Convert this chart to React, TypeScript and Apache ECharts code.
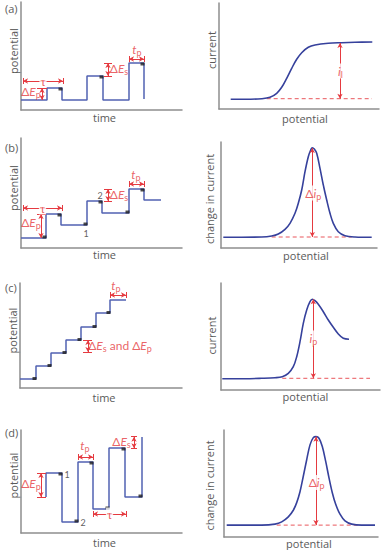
import React, { useEffect, useRef } from 'react';
import * as echarts from 'echarts';

const STEP_BLUE = '#5162b2';
const CURVE_BLUE = '#36419c';
const RED = '#e53a40';
const AXIS_GRAY = '#8e8e8e';
const TEXT = '#5a5a5a';
const FONT = 'Lato, "Open Sans", sans-serif';
const NAME_FONT = '"Open Sans", sans-serif';

type P = [number, number];

// ---------- (a) normal pulse ----------
const aTime = [0, 26, 41, 66, 82, 108, 123];
const aPotential = [10, 22, 10, 34, 10, 47, 11];
const aMarkTime = [39.5, 80.5, 121.5];
const aMarkPotential = [21, 33, 46];
const aCurvePotential = [11.7, 26, 42.7, 51, 57.7, 62.7, 67.7, 72.7, 77.7, 82.7, 89.3, 96, 109.3, 122.7, 136, 153.3];
const aCurrent = [9.7, 9.7, 10.3, 11.7, 15.7, 21.7, 30.7, 40.7, 49.7, 56.3, 61.7, 64, 65.7, 66.3, 66.7, 67];
const aBaseX = [47.7, 153];
const aBaseY = [10.3, 10.3];

// ---------- (b) differential pulse ----------
const bTime = [0, 25, 40, 66, 81, 108, 123, 140];
const bPotential = [10, 34, 23, 47, 35, 59, 48, 48];
const bMarkTime = [23.5, 38.5, 64.5, 79.5, 106.5, 121.5];
const bMarkPotential = [11, 33, 24, 46, 36, 58];
const bCurvePotential = [2.3, 40.7, 50.7, 57.3, 64, 69, 74, 77.3, 80.7, 84, 87.3, 89.7, 91.3, 93.3, 95.7, 99, 102.3, 105.7, 109, 112.3, 117.3, 124, 134, 150.7];
const bDeltaCurrent = [10.7, 11, 12, 14, 18.7, 24.7, 34.7, 44.7, 58, 76.3, 91.3, 98, 100.3, 99, 94.7, 79.7, 63, 48, 34.7, 24.7, 16.3, 12.3, 11, 10.7];
const bBaseX = [50.7, 130.7];
const bBaseY = [11, 11];

// ---------- (c) staircase ----------
const cTime = [0, 16, 31, 46, 61, 76, 90, 106];
const cPotential = [9, 22, 35, 48, 61, 75, 88, 88];
const cMarkTime = [14.5, 29.5, 44.5, 59.5, 74.5, 88.5];
const cMarkPotential = [9.5, 22.5, 35.5, 48.5, 61.5, 75.5];
const cCurvePotential = [1.3, 24, 40.7, 54, 61.3, 67.3, 72.3, 75.7, 79, 82.3, 85.7, 89, 91.3, 94, 97.3, 102.3, 107.3, 112.3, 117.3, 122.3, 128];
const cCurrent = [11.3, 11.3, 11.7, 12.3, 13.3, 16.7, 23.3, 33.3, 48.3, 66.7, 80, 88.3, 90.7, 89.3, 85.7, 78.3, 70, 62.7, 56, 51.7, 50.7];
const cBaseX = [61.3, 149];
const cBaseY = [11.7, 11.7];

// ---------- (d) square wave ----------
const dTime = [25, 41, 57, 72, 88, 104, 121, 121];
const dPotential = [36, 60, 11, 71, 24, 85, 36, 96];
const dMarkTime = [39.5, 55.5, 70.5, 86.5, 102.5, 119.5];
const dMarkPotential = [59, 12, 70, 25, 84, 37];
const dCurvePotential = [2.7, 37.7, 51, 57.7, 64.3, 69.3, 72.7, 76, 79.3, 82.7, 86, 89.3, 92, 95, 98.3, 101.7, 105, 108.3, 111.7, 116, 121, 127.7, 137.7, 151];
const dDeltaCurrent = [12, 12, 13, 15.3, 20.3, 27, 34.7, 45.7, 61.3, 78, 93, 100.3, 101.3, 99.7, 91.3, 76.3, 59.7, 44.7, 33, 23, 16.3, 13, 12, 12];
const dBaseX = [52.7, 134.3];
const dBaseY = [12, 12];

const grids = [
  { left: 21, top: 2, width: 161, height: 108 },
  { left: 219, top: 3, width: 160, height: 106 },
  { left: 21, top: 138, width: 161, height: 110 },
  { left: 221, top: 142, width: 156, height: 106 },
  { left: 20, top: 283, width: 162, height: 105 },
  { left: 221, top: 283, width: 159, height: 107 },
  { left: 21, top: 430, width: 161, height: 103 },
  { left: 224, top: 430, width: 154, height: 108 },
];

const xNames = ['time', 'potential', 'time', 'potential', 'time', 'potential', 'time', 'potential'];
const yNames = ['potential', 'current', 'potential', 'change in current', 'potential', 'current', 'potential', 'change in current'];
const xNameShift = [3, 6, 3, 7, 3, 5, 3, 8];
const yNameShift = [5, 6, 5, -4, 5, 1, 6, -2];
const xNameGap = [2, 3.5, 1, 1.5, 4, 1, 3.5, 1];
const yNameGap = [2, 2.5, 2, 6.5, 2, 4.5, 2, 9.5];

const zip = (xs: number[], ys: number[]): P[] => xs.map((x, i) => [x, ys[i]]);

const rich = {
  r: { color: RED, fontSize: 12, fontFamily: FONT, lineHeight: 15 },
  ri: { color: RED, fontSize: 12, fontFamily: FONT, fontStyle: 'italic', lineHeight: 15 },
  rs: { color: RED, fontSize: 9, fontFamily: FONT, verticalAlign: 'bottom' },
  tau: { color: RED, fontSize: 13, fontFamily: '"Liberation Serif", serif', lineHeight: 13 },
  k: { color: '#333', fontSize: 9, fontFamily: FONT },
};

function stepSeries(i: number, xs: number[], ys: number[], step: string) {
  return {
    type: 'line', xAxisIndex: i, yAxisIndex: i, data: zip(xs, ys), step,
    symbol: 'none', silent: true, z: 3,
    lineStyle: { color: STEP_BLUE, width: 1.5 },
  };
}
function markerSeries(i: number, xs: number[], ys: number[]) {
  return {
    type: 'scatter', xAxisIndex: i, yAxisIndex: i, data: zip(xs, ys),
    symbol: 'rect', symbolSize: [4, 3], silent: true, z: 4,
    itemStyle: { color: '#1e1e1e' },
  };
}
function curveSeries(i: number, xs: number[], ys: number[]) {
  return {
    type: 'line', xAxisIndex: i, yAxisIndex: i, data: zip(xs, ys), smooth: 0.35,
    symbol: 'none', silent: true, z: 4,
    lineStyle: { color: CURVE_BLUE, width: 1.6 },
  };
}
function dashSeries(i: number, xs: number[], ys: number[]) {
  return {
    type: 'line', xAxisIndex: i, yAxisIndex: i, data: zip(xs, ys),
    symbol: 'none', silent: true, z: 2,
    lineStyle: { color: RED, width: 1, type: [4, 3], opacity: 0.85 },
  };
}
type T = { pos: P; text: string; bg?: boolean };
function annotSeries(i: number, texts: T[], arrows: [P, P][], ticks: [P, P][]) {
  return {
    type: 'scatter', xAxisIndex: i, yAxisIndex: i, symbolSize: 0, silent: true, z: 6,
    data: texts.map((t) => ({
      value: t.pos,
      label: { formatter: t.text, backgroundColor: t.bg ? '#fff' : 'transparent', padding: t.bg ? [0, 1] : 0 },
    })),
    label: { show: true, position: 'inside', rich, color: RED },
    markLine: {
      silent: true, symbol: ['arrow', 'arrow'], symbolSize: [4, 5],
      lineStyle: { color: RED, width: 1, type: 'solid' },
      label: { show: false },
      emphasis: { disabled: true },
      data: [
        ...arrows.map(([a, b]) => [{ coord: a }, { coord: b }]),
        ...ticks.map(([a, b]) => [{ coord: a, symbol: 'none' }, { coord: b, symbol: 'none' }]),
      ],
    },
  };
}

const dEp = '{r|Δ}{ri|E}{rs|p}';
const dEs = '{r|Δ}{ri|E}{rs|s}';
const tp = '{ri|t}{rs|p}';
const tau = '{tau|τ}';

function buildOption() {
  const nameStyle = { color: TEXT, fontSize: 11, fontWeight: 'normal', fontFamily: NAME_FONT };
  const xAxis = grids.map((g, i) => ({
    type: 'value', gridIndex: i, min: 0, max: g.width,
    axisLine: { show: true, onZero: false, lineStyle: { color: AXIS_GRAY, width: 1.5 } },
    axisTick: { show: false }, axisLabel: { show: false }, splitLine: { show: false },
    name: xNames[i], nameLocation: 'middle', nameGap: xNameGap[i],
    nameTextStyle: { ...nameStyle, padding: [0, 0, 0, xNameShift[i] * 2] },
  }));
  const yAxis = grids.map((g, i) => ({
    type: 'value', gridIndex: i, min: 0, max: g.height,
    axisLine: { show: true, onZero: false, lineStyle: { color: AXIS_GRAY, width: 1.5 } },
    axisTick: { show: false }, axisLabel: { show: false }, splitLine: { show: false },
    name: yNames[i], nameLocation: 'middle', nameGap: yNameGap[i],
    nameTextStyle: {
      ...nameStyle,
      padding: yNameShift[i] >= 0 ? [0, 0, 0, yNameShift[i] * 2] : [0, -yNameShift[i] * 2, 0, 0],
    },
  }));

  const series: any[] = [
    // (a)
    stepSeries(0, aTime, aPotential, 'end'),
    markerSeries(0, aMarkTime, aMarkPotential),
    annotSeries(0,
      [{ pos: [22, 29], text: tau, bg: true }, { pos: [10, 19], text: dEp }, { pos: [98, 42], text: dEs }, { pos: [116, 61], text: tp }],
      [[[2, 29], [42, 29]], [[21, 10], [21, 22]], [[87, 34], [87, 47]], [[108, 51], [123, 51]]],
      [[[2, 26], [2, 32]], [[42, 26], [42, 32]], [[16, 22], [26, 22]], [[83, 34], [91, 34]], [[83, 47], [91, 47]], [[108, 48], [108, 54]], [[123, 48], [123, 54]]]),
    curveSeries(1, aCurvePotential, aCurrent),
    dashSeries(1, aBaseX, aBaseY),
    annotSeries(1, [{ pos: [121.5, 38], text: '{ri|i}{rs|l}', bg: true }], [[[121, 66], [121, 10.3]]], []),
    // (b)
    stepSeries(2, bTime, bPotential, 'end'),
    markerSeries(2, bMarkTime, bMarkPotential),
    annotSeries(2,
      [{ pos: [21.5, 40], text: tau, bg: true }, { pos: [10, 26], text: dEp }, { pos: [98, 54], text: dEs }, { pos: [115, 74], text: tp },
       { pos: [65, 15], text: '{k|1}' }, { pos: [79, 53], text: '{k|2}' }],
      [[[2, 40], [41, 40]], [[20, 10], [20, 34]], [[87, 47], [87, 59]], [[108, 64], [123, 64]]],
      [[[2, 37], [2, 43]], [[41, 37], [41, 43]], [[16, 34], [25, 34]], [[83, 59], [91, 59]], [[83, 47], [91, 47]], [[108, 61], [108, 67]], [[123, 61], [123, 67]]]),
    curveSeries(3, bCurvePotential, bDeltaCurrent),
    dashSeries(3, bBaseX, bBaseY),
    annotSeries(3, [{ pos: [92.3, 55], text: '{r|Δ}{ri|i}{rs|p}', bg: true }], [[[91.3, 100], [91.3, 11]]], []),
    // (c)
    stepSeries(4, cTime, cPotential, 'end'),
    markerSeries(4, cMarkTime, cMarkPotential),
    annotSeries(4,
      [{ pos: [96, 103], text: tp }, { pos: [100, 43], text: dEs + '{r| and Δ}{ri|E}{rs|p}' }],
      [[[90, 93], [106, 93]], [[68, 36], [68, 48]]],
      [[[90, 90], [90, 96]], [[106, 90], [106, 96]], [[63, 48], [72, 48]], [[63, 36], [72, 36]]]),
    curveSeries(5, cCurvePotential, cCurrent),
    dashSeries(5, cBaseX, cBaseY),
    annotSeries(5, [{ pos: [92.3, 52], text: '{ri|i}{rs|p}', bg: true }], [[[92.3, 90.7], [92.3, 11.7]]], []),
    // (d)
    stepSeries(6, dTime, dPotential, 'start'),
    markerSeries(6, dMarkTime, dMarkPotential),
    annotSeries(6,
      [{ pos: [10, 50], text: dEp }, { pos: [64, 88], text: tp }, { pos: [100.5, 92], text: dEs }, { pos: [88.5, 19], text: tau, bg: true },
       { pos: [46, 59], text: '{k|1}' }, { pos: [62, 11], text: '{k|2}' }],
      [[[20, 36], [20, 60]], [[57, 76], [72, 76]], [[113, 84.7], [113, 96.3]], [[72, 19], [105, 19]]],
      [[[16, 60], [25, 60]], [[16, 36], [25, 36]], [[57, 73], [57, 79]], [[72, 73], [72, 79]], [[110, 96.3], [116, 96.3]], [[110, 84.7], [116, 84.7]],
       [[72, 16], [72, 22]], [[105, 16], [105, 22]]]),
    curveSeries(7, dCurvePotential, dDeltaCurrent),
    dashSeries(7, dBaseX, dBaseY),
    annotSeries(7, [{ pos: [92.7, 55], text: '{r|Δ}{ri|i}{rs|p}', bg: true }], [[[92, 101.3], [92, 12]]], []),
  ];

  const letters = [['(a)', 3], ['(b)', 142], ['(c)', 282], ['(d)', 427]] as [string, number][];

  return {
    animation: false,
    backgroundColor: '#fff',
    grid: grids.map((g) => ({ ...g, containLabel: false })),
    xAxis, yAxis, series,
    graphic: letters.map(([t, y]) => ({
      type: 'text', x: 5, y, silent: true,
      style: { text: t, fill: TEXT, font: `11px ${NAME_FONT}` },
    })),
  };
}

export default function App() {
  const ref = useRef<HTMLDivElement>(null);
  useEffect(() => {
    if (!ref.current) return;
    const chart = echarts.init(ref.current, undefined, { renderer: 'svg' });
    chart.setOption(buildOption() as any);
    return () => chart.dispose();
  }, []);
  return <div ref={ref} style={{ position: 'fixed', left: 0, top: 0, width: 390, height: 550 }} />;
}
